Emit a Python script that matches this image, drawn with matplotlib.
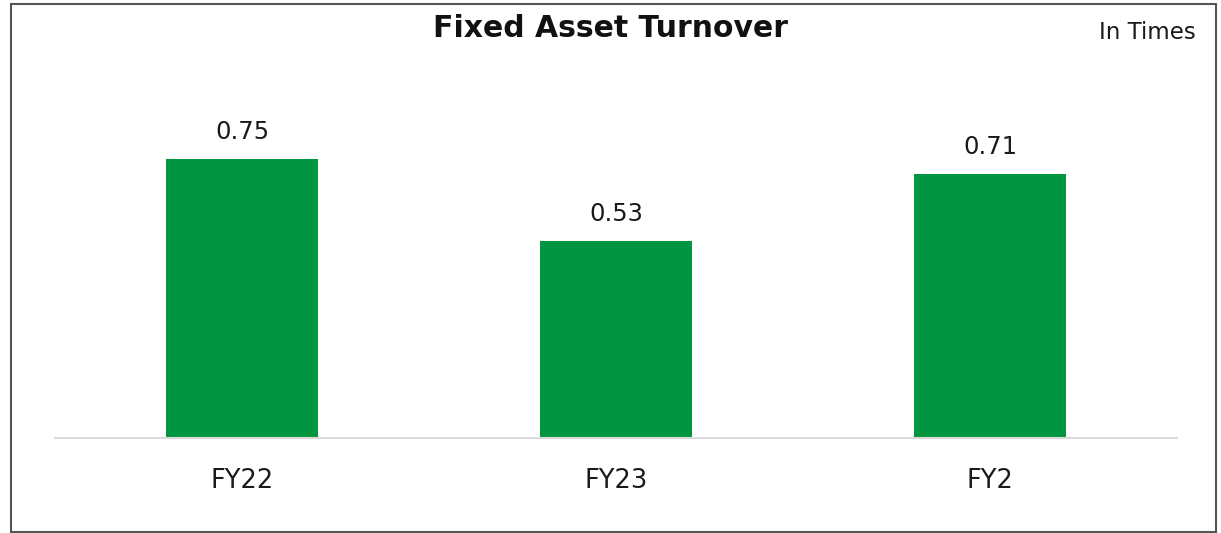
import matplotlib.pyplot as plt
from matplotlib.patches import Rectangle

years = ["FY22", "FY23", "FY2"]
turnover = [0.75, 0.53, 0.71]
value_labels = ["0.75", "0.53", "0.71"]

plt.rcParams['font.family'] = ['DejaVu Sans']

fig = plt.figure(figsize=(12.21, 5.33), dpi=100)
ax = fig.add_axes([0.045, 0.178, 0.919, 0.698])

x = range(len(years))
bars = ax.bar(x, turnover, width=0.404, color="#009640")
for b, lab in zip(bars, value_labels):
    ax.text(b.get_x() + b.get_width() / 2, b.get_height() + 0.054, lab,
            ha="center", va="baseline", fontsize=17.5, color="#1a1a1a")

ax.set_xlim(-0.5, 2.5)
ax.set_ylim(0, 1.0)
ax.set_xticks(list(x))
ax.set_xticklabels(years, fontsize=18.5, color="#1a1a1a")
ax.tick_params(axis="x", length=0, pad=36)
for lab in ax.get_xticklabels():
    lab.set_va("baseline")
ax.set_yticks([])
for s in ["top", "right", "left"]:
    ax.spines[s].set_visible(False)
ax.spines["bottom"].set_color("#d9d9d9")
ax.spines["bottom"].set_linewidth(1.5)

fig.text(0.5, 0.9306, "Fixed Asset Turnover", ha="center", va="baseline",
         fontsize=21.5, fontweight="bold", color="#111111")
fig.text(0.9796, 0.9268, "In Times", ha="right", va="baseline", fontsize=16.5,
         color="#1a1a1a")

# outer frame
fig.patches.append(Rectangle((0.009, 0.002), 0.987, 0.99, transform=fig.transFigure,
                             fill=False, edgecolor="#555555", linewidth=1.5))

fig.savefig("out.png", dpi=100, facecolor="white")
